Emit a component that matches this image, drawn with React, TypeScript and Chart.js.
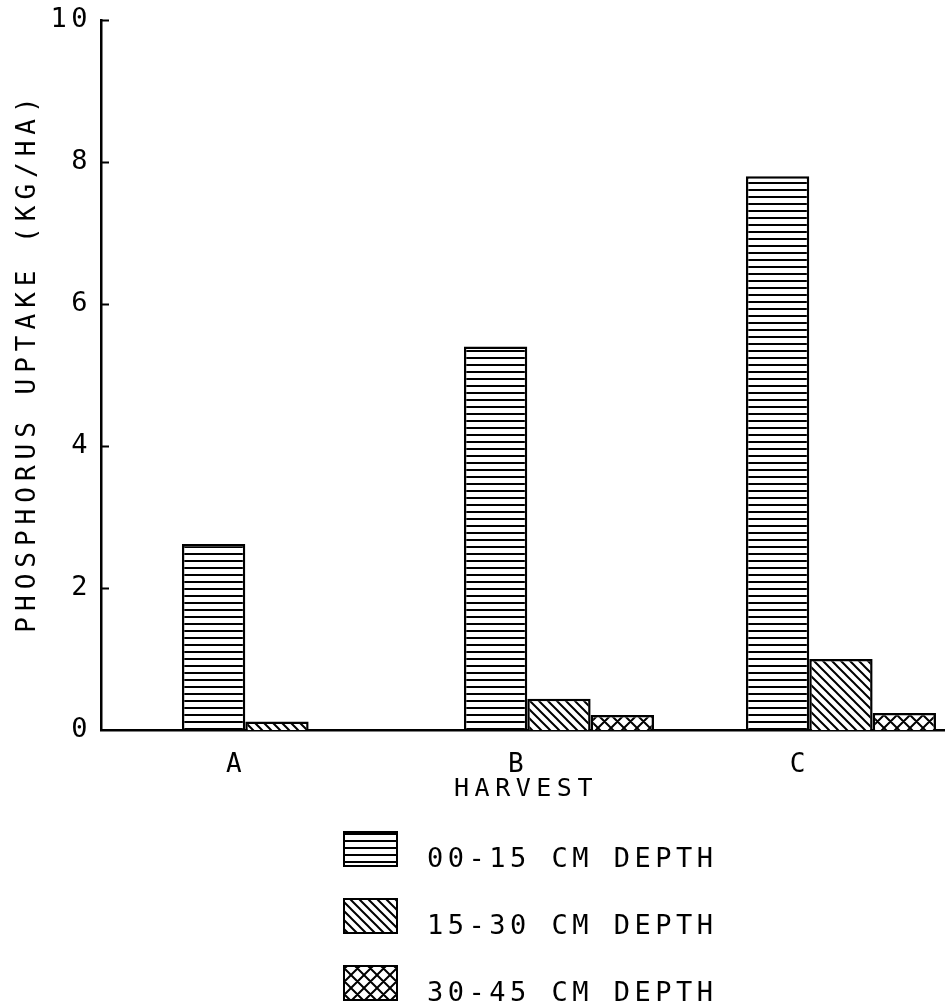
import React, { useEffect, useRef } from 'react';
import { Chart, registerables } from 'chart.js';

Chart.register(...registerables);

// ---- data ----
const harvests = ['A', 'B', 'C'];
const depth00to15 = [2.62, 5.4, 7.8];
const depth15to30 = [0.12, 0.44, 1.0];
const depth30to45 = [0, 0.21, 0.24];
const seriesLabels = ['00-15 CM DEPTH', '15-30 CM DEPTH', '30-45 CM DEPTH'];
const yTitle = 'PHOSPHORUS UPTAKE (KG/HA)';
const xTitle = 'HARVEST';

const FONT = '"DejaVu Sans Mono", "Liberation Mono", monospace';

type Kind = 'h' | 'd' | 'x';

function makePattern(kind: Kind, ctx: CanvasRenderingContext2D): CanvasPattern | string {
  const c = document.createElement('canvas');
  const s = kind === 'h' ? 7 : kind === 'd' ? 9 : 13;
  const w = kind === 'h' ? 8 : s;
  c.width = w;
  c.height = s;
  const g = c.getContext('2d');
  if (!g) return '#fff';
  g.fillStyle = '#fff';
  g.fillRect(0, 0, w, s);
  g.fillStyle = '#000';
  g.strokeStyle = '#000';
  g.lineWidth = 2;
  if (kind === 'h') {
    g.fillRect(0, 0, w, 2);
  } else {
    g.beginPath();
    for (let k = -1; k <= 1; k++) {
      // "\" lines
      g.moveTo(k * s - 1, -1);
      g.lineTo(k * s + s + 1, s + 1);
      if (kind === 'x') {
        // "/" lines
        g.moveTo(k * s - 1, s + 1);
        g.lineTo(k * s + s + 1, -1);
      }
    }
    g.stroke();
  }
  return ctx.createPattern(c, 'repeat') || '#fff';
}

export default function App() {
  const ref = useRef<HTMLCanvasElement | null>(null);

  useEffect(() => {
    const canvas = ref.current;
    if (!canvas) return;
    const ctx = canvas.getContext('2d');
    if (!ctx) return;

    const kinds: Kind[] = ['h', 'd', 'x'];
    const patterns = kinds.map((k) => makePattern(k, ctx));
    const series = [depth00to15, depth15to30, depth30to45];

    const decorPlugin = {
      id: 'decor',
      beforeDraw(chart: any) {
        (chart.ctx as any).letterSpacing = '4.5px';
      },
      afterDraw(chart: any) {
        const c: CanvasRenderingContext2D = chart.ctx;
        const area = chart.chartArea;
        const yScale = chart.scales.y;

        // inward tick marks on the y axis
        c.save();
        c.strokeStyle = '#000';
        c.lineWidth = 2;
        c.beginPath();
        yScale.ticks.forEach((t: any) => {
          if (t.value <= 0) return;
          const py = Math.round(yScale.getPixelForValue(t.value)) + 0.5;
          c.moveTo(area.left, py);
          c.lineTo(area.left + 8, py);
        });
        c.stroke();
        c.restore();

        // y axis title
        c.save();
        c.fillStyle = '#000';
        c.font = `26px ${FONT}`;
        (c as any).letterSpacing = '6px';
        c.textAlign = 'center';
        c.textBaseline = 'middle';
        c.translate(28, 362);
        c.rotate(-Math.PI / 2);
        c.fillText(yTitle, 0, 0);
        c.restore();

        // x axis title
        c.save();
        c.fillStyle = '#000';
        c.font = `25px ${FONT}`;
        (c as any).letterSpacing = '5.5px';
        c.textAlign = 'center';
        c.textBaseline = 'middle';
        c.fillText(xTitle, (area.left + area.right) / 2 + 3, 789);
        c.restore();

        // legend
        c.save();
        seriesLabels.forEach((lab, i) => {
          const bx = 344;
          const by = 832 + i * 67;
          c.fillStyle = patterns[i] as any;
          c.fillRect(bx, by, 53, 34);
          c.strokeStyle = '#000';
          c.lineWidth = 2;
          c.strokeRect(bx, by, 53, 34);
          c.fillStyle = '#000';
          c.font = `27px ${FONT}`;
          (c as any).letterSpacing = '4.5px';
          c.textAlign = 'left';
          c.textBaseline = 'alphabetic';
          c.fillText(lab, 427, by + 35);
        });
        c.restore();
      },
    };

    const chart = new Chart(ctx, {
      type: 'bar',
      data: {
        datasets: series.map((vals, i) => ({
          label: seriesLabels[i],
          data: harvests.map((_, j) => ({ x: j + 1, y: vals[j] })),
          backgroundColor: patterns[i] as any,
          borderColor: '#000',
          borderWidth: 2.5,
          barPercentage: 1,
          categoryPercentage: 0.674,
        })),
      },
      options: {
        responsive: false,
        animation: false,
        events: [],
        layout: { padding: { top: 20, right: 0, left: 0, bottom: 0 } },
        plugins: {
          legend: { display: false },
          tooltip: { enabled: false },
          title: { display: false },
        },
        scales: {
          x: {
            type: 'linear',
            offset: false,
            min: 0.376,
            max: 3.369,
            afterBuildTicks: (scale: any) => {
              scale.ticks = harvests.map((_, i) => ({ value: i + 1 }));
            },
            afterFit: (scale: any) => {
              scale.height = 278;
            },
            grid: { display: false, offset: false },
            border: { display: true, color: '#000', width: 2.5 },
            ticks: {
              autoSkip: false,
              maxRotation: 0,
              padding: 12,
              labelOffset: -41,
              color: '#000',
              font: { family: FONT, size: 26 },
              callback: (v: any) => harvests[Math.round(Number(v)) - 1] ?? '',
            },
          },
          y: {
            min: 0,
            max: 10,
            afterFit: (scale: any) => {
              scale.width = 101;
            },
            grid: { display: false },
            border: { display: true, color: '#000', width: 2.5 },
            ticks: {
              stepSize: 2,
              padding: 1,
              color: '#000',
              font: { family: FONT, size: 27 },
            },
          },
        },
      },
      plugins: [decorPlugin],
    } as any);

    return () => {
      chart.destroy();
    };
  }, []);

  return (
    <div style={{ position: 'fixed', left: 0, top: 0, width: 945, height: 1008, background: '#fff' }}>
      <canvas ref={ref} width={945} height={1008} style={{ display: 'block' }} />
    </div>
  );
}
